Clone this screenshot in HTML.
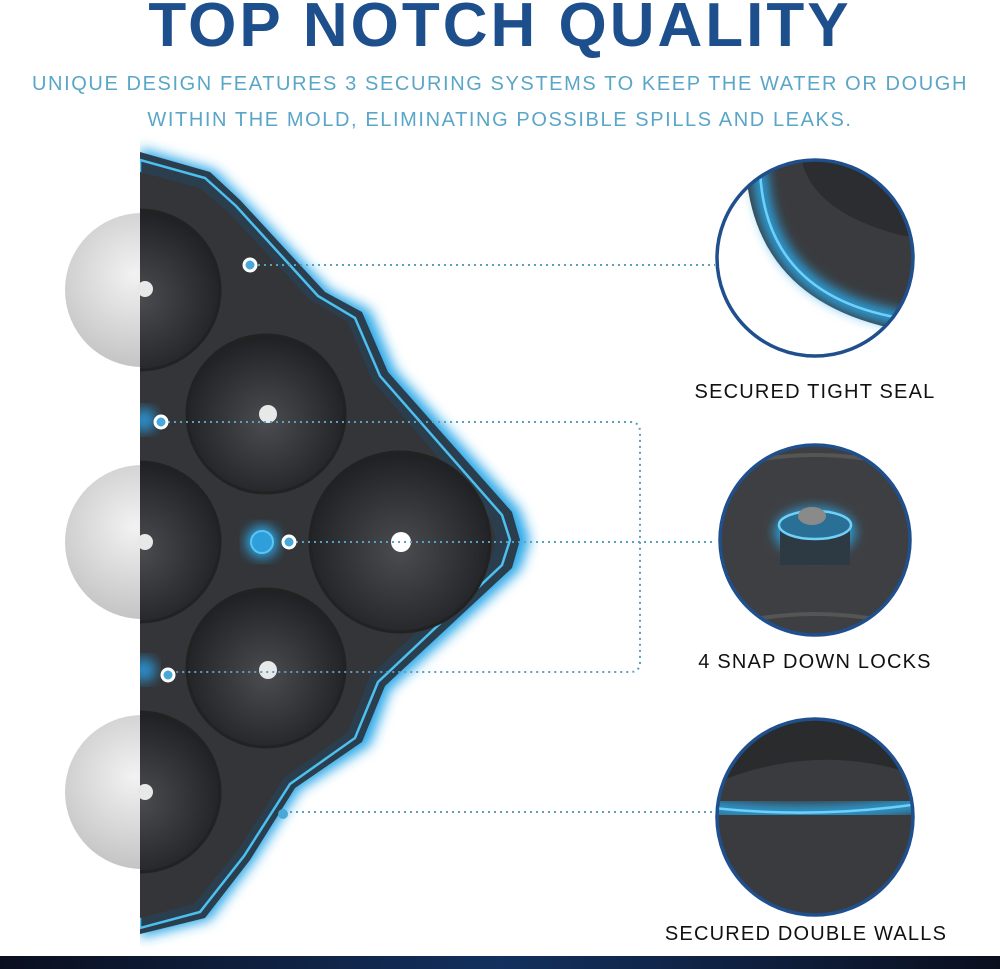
<!DOCTYPE html>
<html><head><style>
html,body{margin:0;padding:0;background:#fff}
body{width:1000px;height:969px;position:relative;overflow:hidden;font-family:"Liberation Sans",sans-serif}
.t{position:absolute;left:0;width:1000px;text-align:center;white-space:nowrap}
</style></head><body>
<div class="t" style="top:-10px;font-size:62px;font-weight:bold;color:#1d4f8d;letter-spacing:3px">TOP NOTCH QUALITY</div>
<div class="t" style="top:73px;font-size:20px;color:#5aa6c8;letter-spacing:1.6px">UNIQUE DESIGN FEATURES 3 SECURING SYSTEMS TO KEEP THE WATER OR DOUGH</div>
<div class="t" style="top:109px;font-size:20px;color:#5aa6c8;letter-spacing:1.6px">WITHIN THE MOLD, ELIMINATING POSSIBLE SPILLS AND LEAKS.</div>
<svg width="1000" height="969" style="position:absolute;left:0;top:0">
<defs>
<filter id="gl" x="-20%" y="-20%" width="140%" height="140%"><feGaussianBlur stdDeviation="6"/></filter>
<radialGradient id="cup" cx="50%" cy="55%" r="55%"><stop offset="0" stop-color="#4a4c50"/><stop offset="1" stop-color="#1f2023"/></radialGradient>
<radialGradient id="ice" cx="45%" cy="40%" r="60%"><stop offset="0" stop-color="#f2f2f2"/><stop offset="1" stop-color="#c4c4c4"/></radialGradient>
<clipPath id="right"><rect x="140" y="0" width="900" height="969"/></clipPath>
<clipPath id="left"><rect x="0" y="0" width="140" height="969"/></clipPath>
<clipPath id="c1"><circle cx="815" cy="258" r="98"/></clipPath>
<clipPath id="c2"><circle cx="815" cy="540" r="95"/></clipPath>
<clipPath id="c3"><circle cx="815" cy="817" r="98"/></clipPath>
</defs>
<g clip-path="url(#right)">
<path d="M140 148 L215 170 L245 200 L330 290 L370 310 L395 370 L520 510 L530 540 L520 570 L390 690 L370 745 L300 790 L255 860 L210 920 L140 938 Z" fill="#2aa7e8" filter="url(#gl)"/>
<path d="M140 152 L210 172 L240 200 L325 292 L362 312 L388 372 L512 512 L520 540 L512 568 L385 686 L362 742 L295 788 L250 860 L205 918 L140 934 Z" fill="#2b3e4e"/>
<path d="M140 160 L205 178 L236 206 L318 296 L355 318 L380 376 L502 515 L510 540 L502 565 L378 682 L355 738 L290 784 L244 856 L200 912 L140 928 Z" fill="none" stroke="#4cc0f0" stroke-width="2.5"/>
<path d="M140 172 L200 188 L230 214 L310 300 L348 322 L372 380 L490 518 L496 540 L490 562 L370 676 L348 732 L284 778 L238 850 L194 904 L140 918 Z" fill="#333538"/>
<g stroke="#222" stroke-width="3">
<circle cx="140" cy="290" r="80" fill="url(#cup)"/>
<circle cx="140" cy="542" r="80" fill="url(#cup)"/>
<circle cx="140" cy="792" r="80" fill="url(#cup)"/>
<circle cx="266" cy="414" r="79" fill="url(#cup)"/>
<circle cx="266" cy="668" r="79" fill="url(#cup)"/>
<circle cx="400" cy="542" r="90" fill="url(#cup)"/>
</g>
<circle cx="262" cy="542" r="16" fill="#2aa7e8" filter="url(#gl)"/><circle cx="262" cy="542" r="11" fill="#2f9fdb" stroke="#5cc6f2" stroke-width="2"/>
<circle cx="144" cy="420" r="12" fill="#2a8fcc" filter="url(#gl)"/>
<circle cx="144" cy="670" r="12" fill="#2a8fcc" filter="url(#gl)"/>
</g>
<g clip-path="url(#left)">
<circle cx="142" cy="290" r="77" fill="url(#ice)"/>
<circle cx="142" cy="542" r="77" fill="url(#ice)"/>
<circle cx="142" cy="792" r="77" fill="url(#ice)"/>
</g>
<g fill="#e8e8e8"><circle cx="145" cy="289" r="8"/><circle cx="145" cy="542" r="8"/><circle cx="145" cy="792" r="8"/><circle cx="268" cy="414" r="9"/><circle cx="268" cy="670" r="9"/><circle cx="401" cy="542" r="10" fill="#fff"/></g>
<g stroke="#5aa0c0" stroke-width="2" stroke-dasharray="2 4" fill="none">
<path d="M258 265 H715"/>
<path d="M168 422 H630 Q640 422 640 432 V662 Q640 672 630 672 H176"/>
<path d="M296 542 H715"/>
<path d="M290 812 H715"/>
</g>
<g fill="#4aa8d8" stroke="#fff" stroke-width="3">
<circle cx="250" cy="265" r="6"/><circle cx="161" cy="422" r="6"/><circle cx="289" cy="542" r="6"/><circle cx="168" cy="675" r="6"/>
</g>
<circle cx="283" cy="814" r="5" fill="#4aa8d8"/>
<g clip-path="url(#c1)">
<rect x="700" y="150" width="230" height="220" fill="#fff"/>
<path d="M745 150 Q745 300 900 330 L930 330 L930 150 Z" fill="#3a3b3e"/>
<path d="M800 150 Q805 210 900 235 L930 240 L930 150 Z" fill="#2c2d30"/>
<path d="M760 170 Q765 295 900 318" stroke="#2aa7e8" stroke-width="14" fill="none" filter="url(#gl)"/>
<path d="M760 170 Q765 295 900 318" stroke="#6fd0f8" stroke-width="2.5" fill="none"/>
</g>
<circle cx="815" cy="258" r="98" fill="none" stroke="#1f4f8c" stroke-width="3.5"/>
<g clip-path="url(#c2)">
<rect x="700" y="440" width="230" height="200" fill="#3e3f42"/>
<path d="M715 470 Q815 440 915 470" stroke="#555" stroke-width="4" fill="none"/>
<path d="M715 628 Q815 600 915 628" stroke="#555" stroke-width="4" fill="none"/>
<ellipse cx="815" cy="532" rx="40" ry="24" fill="#2aa7e8" filter="url(#gl)"/>
<rect x="780" y="525" width="70" height="40" fill="#2d3a44"/>
<ellipse cx="815" cy="525" rx="36" ry="14" fill="#2a6f96" stroke="#6fd0f8" stroke-width="2.5"/>
<ellipse cx="812" cy="516" rx="14" ry="9" fill="#8a8a8a"/>
</g>
<circle cx="815" cy="540" r="95" fill="none" stroke="#1f4f8c" stroke-width="3.5"/>
<g clip-path="url(#c3)">
<rect x="700" y="715" width="230" height="200" fill="#3a3b3e"/>
<path d="M700 715 H930 V780 Q815 735 700 790 Z" fill="#2a2b2d"/>
<path d="M705 807 Q815 820 925 803" stroke="#2aa7e8" stroke-width="14" fill="none" filter="url(#gl)"/>
<path d="M705 807 Q815 820 925 803" stroke="#6fd0f8" stroke-width="2.5" fill="none"/>
</g>
<circle cx="815" cy="817" r="98" fill="none" stroke="#1f4f8c" stroke-width="3.5"/>
<g font-family="Liberation Sans, sans-serif" font-size="20" fill="#111" text-anchor="middle" letter-spacing="1.2">
<text x="815" y="398">SECURED TIGHT SEAL</text>
<text x="815" y="668">4 SNAP DOWN LOCKS</text>
<text x="806" y="940">SECURED DOUBLE WALLS</text>
</g>
<defs><linearGradient id="bar" x1="0" x2="1"><stop offset="0" stop-color="#0a0f1e"/><stop offset=".5" stop-color="#13305e"/><stop offset="1" stop-color="#0a0f1e"/></linearGradient></defs>
<rect x="0" y="956" width="1000" height="13" fill="url(#bar)"/>
</svg>
</body></html>
